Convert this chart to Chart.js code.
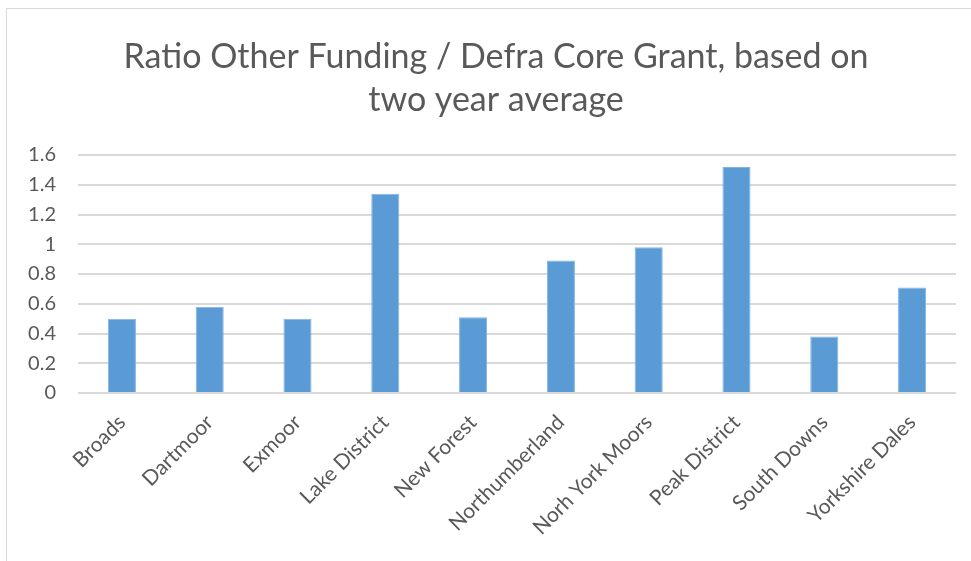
<!DOCTYPE html>
<html>
<head>
<meta charset="utf-8">
<script src="https://cdn.jsdelivr.net/npm/chart.js@4/dist/chart.umd.min.js"></script>
<style>
  html, body { margin: 0; padding: 0; background: #fff; overflow: hidden; }
  #frame { position: absolute; left: 6px; top: 8px; width: 1000px; height: 600px; border: 1px solid #d9d9d9; }
  #wrap { position: absolute; left: 0; top: 0; width: 971px; height: 561px; }
</style>
</head>
<body>
<div id="frame"></div>
<div id="wrap"><canvas id="ratio_chart" width="971" height="561"></canvas></div>
<script>
// park names along the x axis
var parks = ["Broads", "Dartmoor", "Exmoor", "Lake District", "New Forest",
             "Northumberland", "Norh York Moors", "Peak District", "South Downs", "Yorkshire Dales"];

// ratio other funding / defra core grant
var ratios = [0.50, 0.58, 0.50, 1.34, 0.51, 0.89, 0.98, 1.52, 0.38, 0.71];

var titleLines = ["Ratio Other Funding / Defra Core Grant, based on", "two year average"];

var yMin = 0, yMax = 1.6, yStep = 0.2;

var textGrey = "#595959";
var font = "Lato, 'Open Sans', sans-serif";

// title in the original sits a bit right of the canvas centre
var shiftTitle = {
  id: "shiftTitle",
  afterLayout: function (chart) {
    if (chart.titleBlock) chart.titleBlock.left += 36;
  }
};

var ctx = document.getElementById("ratio_chart").getContext("2d");
var ratioChart = new Chart(ctx, {
  type: "bar",
  data: {
    labels: parks,
    datasets: [{
      data: ratios,
      backgroundColor: "#5b9bd5",
      borderColor: "#82b4e2",
      borderWidth: 1,
      barPercentage: 0.32,
      categoryPercentage: 1
    }]
  },
  plugins: [shiftTitle],
  options: {
    responsive: false,
    maintainAspectRatio: false,
    animation: false,
    layout: { padding: { left: 0, right: 15, top: 0, bottom: 0 } },
    plugins: {
      legend: { display: false },
      tooltip: { enabled: false },
      title: {
        display: true,
        text: titleLines,
        color: textGrey,
        font: { family: font, size: 34, weight: "normal", lineHeight: 1.265 },
        padding: { top: 36, bottom: 33 }
      }
    },
    scales: {
      x: {
        grid: { display: false },
        border: { display: false },
        ticks: {
          color: textGrey,
          font: { family: font, size: 21 },
          minRotation: 45,
          maxRotation: 45,
          autoSkip: false,
          padding: 9
        },
        afterFit: function (scale) { scale.height = 168; }
      },
      y: {
        min: yMin,
        max: yMax,
        border: { display: false },
        grid: { color: "#d9d9d9", lineWidth: 2, drawTicks: false },
        ticks: {
          stepSize: yStep,
          color: textGrey,
          font: { family: font, size: 20 },
          padding: 22,
          callback: function (v) { return String(Number(v.toFixed(1))); }
        },
        afterFit: function (scale) { scale.width = 78; }
      }
    }
  }
});
</script>
</body>
</html>
